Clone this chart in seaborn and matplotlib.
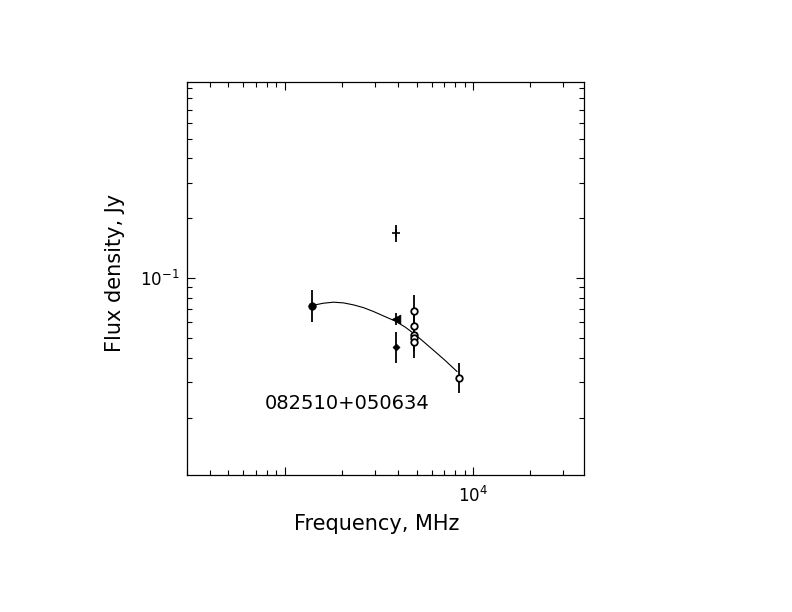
import numpy as np
import pandas as pd
import matplotlib
matplotlib.use("Agg")
import matplotlib.pyplot as plt
import matplotlib.ticker as mticker
import seaborn as sns

# ---- data ----
src_name = "082510+050634"

# filled circle (1.4 GHz)
fc_freq = [1390]
fc_flux = [0.0729]
fc_lo = [0.0606]
fc_hi = [0.0874]

# plus marker
pl_freq = [3900]
pl_flux = [0.1694]
pl_lo = [0.1527]
pl_hi = [0.185]

# filled left triangle
tr_freq = [3900]
tr_flux = [0.0623]
tr_lo = [0.0583]
tr_hi = [0.0668]

# filled diamond
di_freq = [3900]
di_flux = [0.0454]
di_lo = [0.0377]
di_hi = [0.054]

# open circles
oc_freq = [4850, 4850, 4850, 4850, 4850, 8390]
oc_flux = [0.0688, 0.0577, 0.0518, 0.0500, 0.0481, 0.0317]
oc_lo = [0.0600, 0.0500, 0.0450, 0.0430, 0.0397, 0.0265]
oc_hi = [0.0824, 0.0660, 0.0600, 0.0580, 0.0560, 0.0375]

# fitted spectrum curve
fit_freq = [1443, 1597, 1805, 2040, 2306, 2605, 2944, 3327, 3839,
            4338, 4902, 5540, 6262, 7074, 8193]
fit_flux = [0.0735, 0.0749, 0.0758, 0.0752, 0.0735, 0.0712, 0.0681, 0.0647,
            0.0610, 0.0569, 0.0522, 0.0473, 0.0428, 0.0387, 0.0340]

xlim = (300, 38700)
ylim = (0.0103, 0.97)

# ---- figure ----
sns.set_style("white")
plt.rcParams["font.family"] = ["DejaVu Sans"]
plt.rcParams["mathtext.fontset"] = "dejavusans"
plt.rcParams["text.color"] = "black"
plt.rcParams["axes.labelcolor"] = "black"
plt.rcParams["xtick.color"] = "black"
plt.rcParams["ytick.color"] = "black"

fig = plt.figure(figsize=(7.92, 6.12), dpi=100)
ax = fig.add_axes([0.2357, 0.2239, 0.5017, 0.6429])
ax.set_xscale("log")
ax.set_yscale("log")

fit_df = pd.DataFrame({"freq": fit_freq, "flux": fit_flux})
sns.lineplot(data=fit_df, x="freq", y="flux", ax=ax, color="black", lw=0.8,
             sort=True, estimator=None)

def err(ax, f, s, lo, hi):
    f = np.array(f); s = np.array(s); lo = np.array(lo); hi = np.array(hi)
    ax.errorbar(f, s, yerr=[s - lo, hi - s], fmt="none", ecolor="black",
                elinewidth=1.3, capsize=0, zorder=2)

for g in [(fc_freq, fc_flux, fc_lo, fc_hi), (pl_freq, pl_flux, pl_lo, pl_hi),
          (tr_freq, tr_flux, tr_lo, tr_hi), (di_freq, di_flux, di_lo, di_hi),
          (oc_freq, oc_flux, oc_lo, oc_hi)]:
    err(ax, *g)

sns.scatterplot(x=fc_freq, y=fc_flux, ax=ax, marker="o", s=30, color="black",
                edgecolor="black", zorder=3)
sns.scatterplot(x=pl_freq, y=pl_flux, ax=ax, marker="+", s=40, color="black",
                linewidth=1.2, zorder=3)
sns.scatterplot(x=tr_freq, y=tr_flux, ax=ax, marker="<", s=40, color="black",
                edgecolor="black", zorder=3)
sns.scatterplot(x=di_freq, y=di_flux, ax=ax, marker="D", s=14, color="black",
                edgecolor="black", zorder=3)
sns.scatterplot(x=oc_freq, y=oc_flux, ax=ax, marker="o", s=22, facecolor="white",
                edgecolor="black", linewidth=1.3, zorder=3)

ax.set_xlim(*xlim)
ax.set_ylim(*ylim)

# ticks
ax.xaxis.set_major_locator(mticker.FixedLocator([1e3, 1e4]))
ax.xaxis.set_major_formatter(mticker.FixedFormatter(["", r"$10^{4}$"]))
ax.xaxis.set_minor_locator(mticker.LogLocator(base=10, subs=np.arange(2, 10), numticks=20))
ax.xaxis.set_minor_formatter(mticker.NullFormatter())
ax.yaxis.set_major_locator(mticker.FixedLocator([0.1]))
ax.yaxis.set_major_formatter(mticker.FixedFormatter([r"$10^{-1}$"]))
ax.yaxis.set_minor_locator(mticker.LogLocator(base=10, subs=np.arange(2, 10), numticks=20))
ax.yaxis.set_minor_formatter(mticker.NullFormatter())

ax.tick_params(which="both", direction="in", top=True, right=True,
               bottom=True, left=True, width=0.8, color="black")
ax.tick_params(which="major", length=6)
ax.tick_params(which="minor", length=3.6)
ax.tick_params(axis="x", which="major", pad=8, labelsize=12, labelcolor="black")
ax.tick_params(axis="y", which="major", pad=5, labelsize=12, labelcolor="black")

for sp in ax.spines.values():
    sp.set_linewidth(0.9)
    sp.set_color("black")

ax.set_xlabel("Frequency, MHz", fontsize=15, color="black")
ax.set_ylabel("Flux density, Jy", fontsize=15, color="black")
ax.xaxis.label.set_va("center")
ax.yaxis.label.set_va("center")
ax.xaxis.set_label_coords(0.479, -0.1245)
ax.yaxis.set_label_coords(-0.180, 0.514)

ax.text(783, 0.0234, src_name, fontsize=14, ha="left", va="center", color="black")

fig.savefig("out.png", dpi=100, facecolor="white")
